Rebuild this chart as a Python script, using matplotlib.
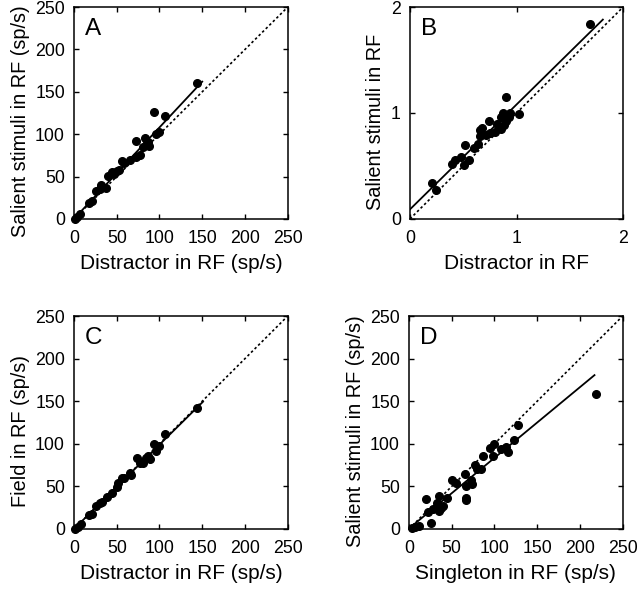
import matplotlib
matplotlib.use('Agg')
import matplotlib.pyplot as plt
import numpy as np

plt.rcParams['font.family'] = ['Liberation Sans', 'DejaVu Sans']

# panel A: salient vs distractor (sp/s)
a_x = [1, 3, 7, 17, 21, 26, 30, 32, 37, 40, 45, 47, 50, 53, 56, 59, 65, 73, 77,
       73, 83, 85, 88, 94, 96, 100, 107, 144, 81, 87]
a_y = [0, 2, 6, 19, 21, 33, 35, 40, 36, 51, 55, 53, 57, 58, 68, 66, 70, 73, 75,
       92, 96, 89, 86, 126, 100, 102, 122, 160, 85, 91]
a_fit = (1.08, 0.0, 150)  # slope, intercept, x end

# panel B: normalized
b_x = [1.69, 0.21, 0.24, 0.39, 0.42, 0.48, 0.52, 0.55, 0.51, 0.60, 0.64, 0.66,
       0.68, 0.74, 0.66, 0.71, 0.75, 0.80, 0.85, 0.85, 0.87, 0.90, 0.90, 0.93,
       0.94, 1.02, 0.88, 0.82]
b_y = [1.84, 0.34, 0.27, 0.52, 0.56, 0.58, 0.70, 0.56, 0.51, 0.67, 0.71, 0.84,
       0.86, 0.92, 0.78, 0.79, 0.81, 0.82, 0.85, 0.96, 1.00, 1.15, 0.92, 0.96,
       1.00, 0.99, 0.89, 0.90]
b_fit = (0.99, 0.09, 1.81)

# panel C: field vs distractor
c_x = [1, 5, 8, 18, 21, 26, 30, 33, 39, 45, 50, 52, 56, 59, 66, 67, 74, 77, 81,
       84, 87, 89, 94, 96, 100, 107, 144]
c_y = [0, 2, 6, 16, 18, 27, 30, 32, 38, 42, 49, 54, 60, 60, 66, 63, 83, 77, 78,
       83, 86, 82, 100, 92, 98, 112, 142]
c_fit = (0.99, 0.0, 151)

# panel D: salient vs singleton
d_x = [3, 7, 12, 26, 20, 22, 28, 33, 35, 38, 40, 44, 50, 55, 65, 67, 67, 67, 74,
       73, 77, 80, 84, 87, 95, 100, 98, 108, 113, 116, 123, 127, 219, 35]
d_y = [1, 2, 4, 7, 35, 20, 23, 30, 39, 25, 27, 36, 57, 54, 64, 36, 34, 50, 53,
       58, 75, 70, 70, 86, 95, 100, 86, 94, 96, 90, 104, 122, 159, 21]
d_fit = (0.83, 0.5, 217)

panels = [
    ('A', a_x, a_y, a_fit, 250, 'Distractor in RF (sp/s)', 'Salient stimuli in RF (sp/s)'),
    ('B', b_x, b_y, b_fit, 2, 'Distractor in RF', 'Salient stimuli in RF'),
    ('C', c_x, c_y, c_fit, 250, 'Distractor in RF (sp/s)', 'Field in RF (sp/s)'),
    ('D', d_x, d_y, d_fit, 250, 'Singleton in RF (sp/s)', 'Salient stimuli in RF (sp/s)'),
]
positions = [
    [0.1156, 0.629, 0.334, 0.359],
    [0.6406, 0.629, 0.333, 0.359],
    [0.1156, 0.1034, 0.334, 0.361],
    [0.639, 0.1034, 0.334, 0.361],
]

fig = plt.figure(figsize=(6.4, 5.9), dpi=100)
for (letter, xs, ys, fit, lim, xlab, ylab), pos in zip(panels, positions):
    ax = fig.add_axes(pos)
    ax.plot([0, lim], [0, lim], color='black', ls=(0, (1.5, 1.5)), lw=1.2)
    slope, icpt, xend = fit
    fx = np.array([0, xend])
    ax.plot(fx, slope * fx + icpt, color='black', lw=1.3)
    ax.plot(xs, ys, 'o', color='black', markersize=5.5, clip_on=False)
    ax.set_xlim(0, lim)
    ax.set_ylim(0, lim)
    if lim == 2:
        ticks = [0, 1, 2]
    else:
        ticks = list(range(0, 251, 50))
    ax.set_xticks(ticks)
    ax.set_yticks(ticks)
    ax.tick_params(direction='in', top=True, right=True, length=3.5, width=1,
                   labelsize=12.8)
    ax.tick_params(axis='x', pad=8)
    ax.tick_params(axis='y', pad=6.5)
    for sp in ax.spines.values():
        sp.set_linewidth(1.1)
    ax.set_xlabel(xlab, fontsize=15, labelpad=5)
    ax.set_ylabel(ylab, fontsize=14.3, labelpad=4)
    ax.yaxis.label.set_y(0.46)
    ax.text(0.05, 0.95, letter, transform=ax.transAxes, fontsize=17.5,
            va='top', ha='left')

fig.savefig('out.png', dpi=100)
